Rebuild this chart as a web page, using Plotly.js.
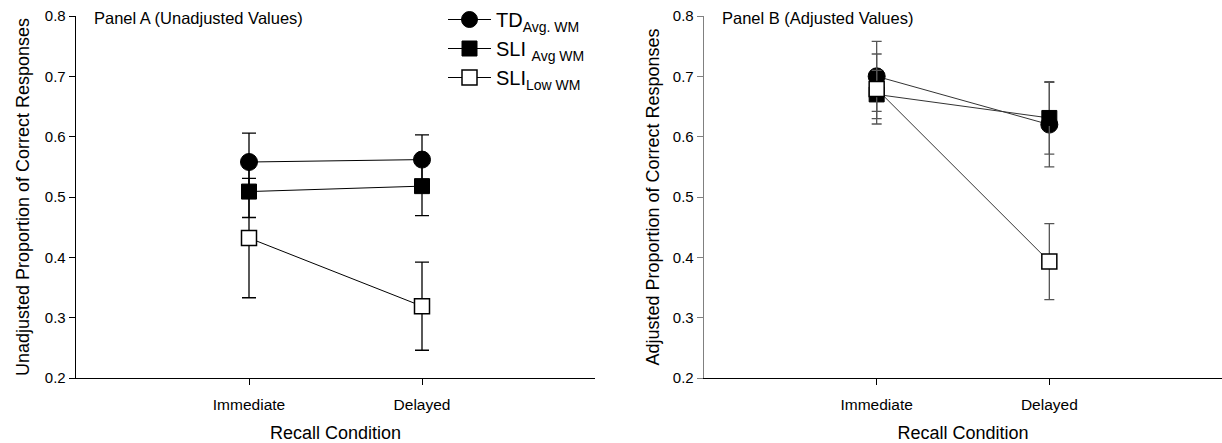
<!DOCTYPE html>
<html>
<head>
<meta charset="utf-8">
<script src="https://cdn.plot.ly/plotly-3.0.1.min.js"></script>
<style>html,body{margin:0;padding:0;background:#fff}#chart{width:1222px;height:443px}</style>
</head>
<body>
<div id="chart"></div>
<script>
const categories = ["Immediate", "Delayed"];
const seriesNames = ["TD<sub>Avg. WM</sub>", "SLI <sub>Avg WM</sub>", "SLI<sub>Low WM</sub>"];

// Panel A (Unadjusted)
const tdA = [0.558, 0.562];
const tdAErr = [0.048, 0.041];
const sliAvgA = [0.509, 0.518];
const sliAvgAErr = [0.043, 0.049];
const sliLowA = [0.432, 0.319];
const sliLowAErr = [0.099, 0.073];

// Panel B (Adjusted)
const tdB = [0.700, 0.620];
const tdBErr = [0.058, 0.070];
const sliAvgB = [0.670, 0.631];
const sliAvgBErr = [0.040, 0.060];
const sliLowB = [0.679, 0.393];
const sliLowBErr = [0.058, 0.063];

const yTicks = [0.2, 0.3, 0.4, 0.5, 0.6, 0.7, 0.8];
const yTickText = ["0.2", "0.3", "0.4", "0.5", "0.6", "0.7", "0.8"];

const styles = [
  {symbol: "circle", size: 17, color: "#000", line: {color: "#000", width: 1}},
  {symbol: "square", size: 15, color: "#000", line: {color: "#000", width: 1}},
  {symbol: "square", size: 15, color: "#fff", line: {color: "#000", width: 1.5}}
];

function mk(vals, errs, idx, xa, ya, showLeg, lineColor, errColor, capW) {
  return {
    x: categories, y: vals, xaxis: xa, yaxis: ya,
    type: "scatter", mode: "lines+markers",
    name: seriesNames[idx], showlegend: showLeg,
    line: {color: lineColor, width: 1},
    marker: styles[idx],
    error_y: {type: "data", array: errs, visible: true, color: errColor, thickness: 1.3, width: capW},
    cliponaxis: false
  };
}

const traces = [
  mk(tdA, tdAErr, 0, "x", "y", true, "#000", "#000", 7),
  mk(sliAvgA, sliAvgAErr, 1, "x", "y", true, "#000", "#000", 7),
  mk(sliLowA, sliLowAErr, 2, "x", "y", true, "#000", "#000", 7),
  mk(tdB, tdBErr, 0, "x2", "y2", false, "#333", "#555", 5),
  mk(sliAvgB, sliAvgBErr, 1, "x2", "y2", false, "#333", "#555", 5),
  mk(sliLowB, sliLowBErr, 2, "x2", "y2", false, "#333", "#555", 5)
];

const font = {family: "Liberation Sans, Arial, sans-serif", color: "#000"};
const W = 1222, H = 443;
const yDom = [1 - 378 / H, 1 - 16 / H];

function xAxis(domain) {
  return {
    domain: domain, type: "category", range: [-1, 2],
    showline: true, linecolor: "#000", linewidth: 1,
    ticks: "outside", ticklen: 6, tickcolor: "#000",
    ticklabelstandoff: 6,
    showgrid: false, zeroline: false,
    tickfont: {family: font.family, size: 15.5, color: "#000"},
    title: {text: "Recall Condition", font: {family: font.family, size: 18, color: "#000"}, standoff: 16}
  };
}
function yAxis(anchor, title, lc, standoff) {
  return {
    domain: yDom, anchor: anchor, range: [0.2, 0.8],
    tickvals: yTicks, ticktext: yTickText,
    showline: true, linecolor: lc, linewidth: 1.3,
    ticks: "outside", ticklen: 6, tickcolor: lc,
    showgrid: false, zeroline: false,
    tickfont: {family: font.family, size: 15, color: "#000"},
    title: {text: title, font: {family: font.family, size: 18, color: "#000"}, standoff: standoff}
  };
}

const layout = {
  width: W, height: H,
  margin: {l: 0, r: 0, t: 0, b: 0},
  paper_bgcolor: "#fff", plot_bgcolor: "#fff",
  font: font,
  xaxis: Object.assign(xAxis([76 / W, 595 / W]), {anchor: "y"}),
  yaxis: yAxis("x", "Unadjusted Proportion of Correct Responses", "#000", 10),
  xaxis2: Object.assign(xAxis([704 / W, 1]), {anchor: "y2"}),
  yaxis2: yAxis("x2", "Adjusted Proportion of Correct Responses", "#808080", 8),
  legend: {
    x: 443 / W, y: 1.0, xanchor: "left", yanchor: "top",
    itemwidth: 43,
    font: {family: font.family, size: 20, color: "#000"},
    bgcolor: "rgba(0,0,0,0)", borderwidth: 0, tracegroupgap: 0
  },
  annotations: [
    {text: "Panel A (Unadjusted Values)", xref: "paper", yref: "paper", x: 92 / W, y: 1 - 18 / H,
     xanchor: "left", yanchor: "middle", showarrow: false, font: {family: font.family, size: 16.5, color: "#000"}},
    {text: "Panel B (Adjusted Values)", xref: "paper", yref: "paper", x: 720 / W, y: 1 - 18 / H,
     xanchor: "left", yanchor: "middle", showarrow: false, font: {family: font.family, size: 16.5, color: "#000"}}
  ]
};

Plotly.newPlot("chart", traces, layout, {displayModeBar: false, staticPlot: true});
</script>
</body>
</html>
